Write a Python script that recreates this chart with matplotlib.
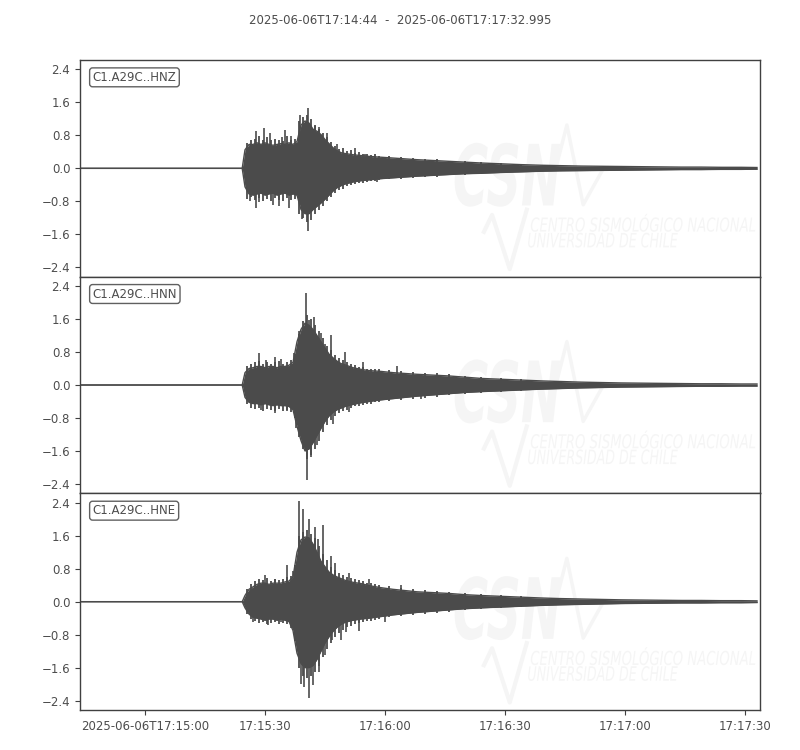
import numpy as np
import matplotlib
matplotlib.use("Agg")
import matplotlib.pyplot as plt
from matplotlib.ticker import FixedLocator, FuncFormatter
from matplotlib.textpath import TextPath
from matplotlib.font_manager import FontProperties
from matplotlib.patches import PathPatch
from matplotlib.transforms import Affine2D


# ============================================================
# Data (seconds after 2025-06-06T17:14:44)
# ============================================================

TITLE = "2025-06-06T17:14:44  -  2025-06-06T17:17:32.995"
CHANNELS = ["C1.A29C..HNZ", "C1.A29C..HNN", "C1.A29C..HNE"]

# time grid of the envelope samples
ENV_T = [0, 40.3,
         41, 42, 43, 44, 45, 46, 47, 48, 49, 50, 51, 52, 53,
         54, 55, 56, 57, 58, 59, 60, 61, 62, 63, 64, 65, 66,
         68, 70, 72, 75, 78, 81, 84, 88, 92, 96, 100,
         105, 110, 115, 120, 125, 130, 135, 140, 145, 150, 155, 160, 165, 169]

# upper / lower envelope of each trace
HNZ_UP = [0, 0,
          0.45, 0.58, 0.58, 0.62, 0.58, 0.62, 0.58, 0.56, 0.58, 0.6, 0.58, 0.62, 0.58,
          0.65, 1.05, 1.15, 1.1, 0.95, 0.9, 0.82, 0.7, 0.6, 0.5, 0.43, 0.38, 0.36,
          0.33, 0.31, 0.29, 0.27, 0.25, 0.23, 0.21, 0.19, 0.17, 0.15, 0.13,
          0.11, 0.09, 0.075, 0.065, 0.055, 0.05, 0.045, 0.04, 0.035, 0.03, 0.03, 0.025, 0.025, 0.02]
HNZ_LO = [0, 0,
          -0.45, -0.62, -0.65, -0.62, -0.6, -0.65, -0.62, -0.6, -0.65, -0.62, -0.6, -0.65, -0.62,
          -0.65, -1.0, -1.1, -1.1, -1.0, -0.92, -0.84, -0.75, -0.65, -0.55, -0.47, -0.42, -0.38,
          -0.33, -0.3, -0.28, -0.25, -0.23, -0.21, -0.19, -0.17, -0.15, -0.13, -0.12,
          -0.1, -0.085, -0.07, -0.06, -0.055, -0.05, -0.045, -0.04, -0.035, -0.03, -0.03, -0.025, -0.025, -0.02]

HNN_UP = [0, 0,
          0.3, 0.4, 0.42, 0.45, 0.45, 0.42, 0.45, 0.45, 0.42, 0.45, 0.45, 0.48, 0.55,
          1.05, 1.35, 1.5, 1.45, 1.35, 1.2, 1.05, 0.9, 0.75, 0.66, 0.58, 0.52, 0.49,
          0.42, 0.38, 0.35, 0.33, 0.3, 0.28, 0.26, 0.24, 0.22, 0.19, 0.16,
          0.14, 0.12, 0.1, 0.085, 0.07, 0.06, 0.05, 0.045, 0.04, 0.035, 0.03, 0.03, 0.025, 0.025]
HNN_LO = [0, 0,
          -0.3, -0.42, -0.45, -0.45, -0.48, -0.45, -0.48, -0.5, -0.48, -0.5, -0.5, -0.52, -0.6,
          -1.0, -1.35, -1.6, -1.55, -1.4, -1.22, -1.05, -0.88, -0.75, -0.66, -0.6, -0.56, -0.52,
          -0.47, -0.43, -0.4, -0.36, -0.33, -0.3, -0.27, -0.24, -0.21, -0.18, -0.16,
          -0.14, -0.12, -0.1, -0.085, -0.07, -0.06, -0.05, -0.045, -0.04, -0.035, -0.03, -0.03, -0.025, -0.025]

HNE_UP = [0, 0,
          0.15, 0.3, 0.36, 0.42, 0.45, 0.45, 0.42, 0.45, 0.45, 0.45, 0.48, 0.5, 0.6,
          1.2, 1.5, 1.57, 1.55, 1.4, 1.2, 0.98, 0.85, 0.72, 0.65, 0.6, 0.56, 0.52,
          0.47, 0.44, 0.39, 0.34, 0.3, 0.27, 0.24, 0.22, 0.2, 0.17, 0.15,
          0.13, 0.11, 0.09, 0.075, 0.065, 0.055, 0.045, 0.04, 0.035, 0.03, 0.03, 0.025, 0.025, 0.02]
HNE_LO = [0, 0,
          -0.15, -0.3, -0.38, -0.4, -0.42, -0.45, -0.42, -0.42, -0.45, -0.42, -0.45, -0.48, -0.7,
          -1.25, -1.5, -1.6, -1.6, -1.55, -1.4, -1.2, -1.0, -0.85, -0.72, -0.62, -0.55, -0.5,
          -0.45, -0.42, -0.4, -0.36, -0.32, -0.29, -0.26, -0.23, -0.2, -0.17, -0.15,
          -0.13, -0.11, -0.09, -0.075, -0.065, -0.055, -0.045, -0.04, -0.035, -0.03, -0.03, -0.025, -0.025, -0.02]

# ragged edge of the envelope: short excursions between the envelope samples
EDGE_T = [41.5, 42.5, 43.5, 44.5, 45.5, 46.5, 47.5, 48.5, 49.5, 50.5, 51.5, 52.5,
          53.5, 54.5, 55.5, 56.5, 57.5, 58.5, 59.5, 60.5, 61.5, 62.5, 63.5, 64.5,
          65.5, 66.5, 67.5, 68.5, 69.5, 70.5, 71.5, 72.5, 73.5, 74.5,
          77, 80, 83, 86, 89, 92, 96, 100, 105, 110]

HNZ_EDGE_UP = [0.62, 0.7, 0.72, 0.78, 0.7, 0.75, 0.68, 0.72, 0.7, 0.66, 0.78, 0.7,
               0.72, 1.15, 1.25, 1.3, 1.2, 1.05, 0.95, 0.85, 0.75, 0.65, 0.55, 0.48,
               0.5, 0.42, 0.44, 0.38, 0.4, 0.34, 0.36, 0.32, 0.34, 0.3,
               0.3, 0.27, 0.26, 0.22, 0.22, 0.19, 0.18, 0.15, 0.13, 0.1]
HNZ_EDGE_LO = [-0.75, -0.7, -0.78, -0.72, -0.8, -0.74, -0.8, -0.72, -0.76, -0.8, -0.72, -0.78,
               -0.74, -1.1, -1.2, -1.3, -1.25, -1.12, -1.0, -0.92, -0.8, -0.7, -0.6, -0.52,
               -0.5, -0.44, -0.4, -0.38, -0.36, -0.35, -0.32, -0.31, -0.3, -0.29,
               -0.27, -0.25, -0.23, -0.21, -0.2, -0.17, -0.16, -0.14, -0.12, -0.1]

HNN_EDGE_UP = [0.45, 0.52, 0.55, 0.58, 0.5, 0.56, 0.52, 0.55, 0.58, 0.52, 0.56, 0.6,
               0.75, 1.25, 1.55, 1.7, 1.6, 1.45, 1.3, 1.15, 0.95, 0.85, 0.72, 0.65,
               0.6, 0.55, 0.5, 0.48, 0.44, 0.43, 0.4, 0.4, 0.38, 0.38,
               0.36, 0.33, 0.31, 0.3, 0.28, 0.26, 0.23, 0.2, 0.17, 0.15]
HNN_EDGE_LO = [-0.45, -0.55, -0.58, -0.55, -0.62, -0.58, -0.6, -0.62, -0.58, -0.62, -0.6, -0.65,
               -0.8, -1.25, -1.55, -1.8, -1.7, -1.55, -1.35, -1.15, -0.98, -0.85, -0.75, -0.68,
               -0.62, -0.6, -0.55, -0.52, -0.5, -0.48, -0.46, -0.45, -0.42, -0.42,
               -0.38, -0.36, -0.33, -0.31, -0.28, -0.25, -0.22, -0.19, -0.17, -0.14]

HNE_EDGE_UP = [0.3, 0.42, 0.5, 0.55, 0.52, 0.58, 0.5, 0.55, 0.52, 0.55, 0.6, 0.62,
               0.9, 1.6, 1.7, 1.75, 1.65, 1.55, 1.35, 1.15, 1.0, 0.85, 0.78, 0.7,
               0.65, 0.6, 0.58, 0.55, 0.52, 0.5, 0.46, 0.45, 0.42, 0.4,
               0.37, 0.34, 0.3, 0.28, 0.27, 0.24, 0.21, 0.19, 0.16, 0.14]
HNE_EDGE_LO = [-0.3, -0.42, -0.48, -0.52, -0.5, -0.55, -0.52, -0.5, -0.55, -0.52, -0.55, -0.6,
               -0.95, -1.6, -1.8, -1.85, -1.8, -1.7, -1.55, -1.35, -1.15, -1.0, -0.85, -0.75,
               -0.68, -0.62, -0.58, -0.55, -0.52, -0.5, -0.48, -0.46, -0.44, -0.42,
               -0.38, -0.35, -0.32, -0.29, -0.27, -0.24, -0.21, -0.18, -0.16, -0.13]

# single large peaks sticking out of the envelope (time, amplitude)
HNZ_SPIKE_T = [42.3, 43.7, 43.8, 44.6, 45.8, 47.2, 48.0, 49.5, 50.3, 51.1, 52.0, 52.6,
               54.7, 55.3, 55.9, 56.7, 56.8, 57.5, 58.6, 59.4, 60.5, 61.5, 62.5, 64.0,
               68.6, 71.0, 74.0]
HNZ_SPIKE_V = [-0.8, 0.91, -0.96, -0.82, 0.99, 0.85, -0.9, -0.92, 0.75, 0.94, -0.96, 0.78,
               1.3, -1.24, 1.1, 1.46, -1.51, -1.04, 1.02, 1.0, -0.8, 0.85, -0.56, 0.6,
               0.49, 0.35, -0.33]

HNN_SPIKE_T = [44.5, 45.0, 46.3, 48.4, 48.5, 50.0, 51.6, 53.2, 53.8, 54.6, 56.2, 56.4,
               57.0, 57.6, 58.3, 59.0, 60.0, 61.0, 62.5, 63.0, 66.0, 67.0, 70.5, 79.0, 85.0]
HNN_SPIKE_V = [0.77, -0.6, 0.6, 0.69, -0.68, 0.62, -0.62, 0.77, -1.05, 1.3, 2.23, -2.3,
               1.58, -1.75, 1.66, -1.45, 1.26, 1.0, 1.21, -0.95, 0.81, -0.65, 0.55, 0.45, -0.35]

HNE_SPIKE_T = [43.0, 45.9, 46.8, 48.5, 50.0, 51.6, 52.5, 52.9, 54.4, 55.0, 55.6, 55.8,
               56.9, 57.0, 58.0, 58.4, 59.2, 59.5, 60.4, 61.0, 62.6, 62.7, 63.4, 65.1,
               66.3, 67.0, 69.6, 72.0, 76.0, 80.0]
HNE_SPIKE_V = [-0.5, 0.64, -0.57, 0.55, -0.5, 0.88, -0.65, 0.75, 2.44, -1.99, 2.25, -2.07,
               2.01, -2.35, -2.03, 1.81, 1.53, -1.7, 1.85, -1.3, 1.12, -0.94, 0.95, -0.94,
               -0.74, 0.7, -0.7, 0.55, -0.5, 0.4]

X_TICKS = [16, 46, 76, 106, 136, 166]
X_TICK_LABELS = ["2025-06-06T17:15:00", "17:15:30", "17:16:00",
                 "17:16:30", "17:17:00", "17:17:30"]
Y_TICKS = [-2.4, -1.6, -0.8, 0.0, 0.8, 1.6, 2.4]


# ============================================================
# Style
# ============================================================

WAVE_COLOR = "#4b4b4b"
AXIS_COLOR = "#404040"
TEXT_COLOR = "#4d4d4d"
MARK_COLOR = "#f5f5f5"
X_LIMITS = (-0.25, 169.75)
Y_LIMITS = (-2.63, 2.63)


def fmt_y(v, pos):
    if abs(v) < 1e-9:
        return "0.0"
    return f"{v:.1f}".replace("-", "\u2212")


def text_in_box(ax, s, box, **font_kw):
    """Draw string s as a filled path stretched to box (axes fraction)."""
    tp = TextPath((0, 0), s, size=1, prop=FontProperties(**font_kw))
    ext = tp.get_extents()
    x0, x1, y0, y1 = box
    tr = (Affine2D().translate(-ext.x0, -ext.y0)
          .scale((x1 - x0) / ext.width, (y1 - y0) / ext.height)
          .translate(x0, y0))
    ax.add_patch(PathPatch(tr.transform_path(tp), transform=ax.transAxes,
                           facecolor=MARK_COLOR, edgecolor="none", zorder=0))


def draw_watermark(ax):
    """Faint CSN logo in the right half of each panel."""
    text_in_box(ax, "CSN", (0.551, 0.706, 0.323, 0.618),
                family="DejaVu Sans", weight="bold", style="italic")
    text_in_box(ax, "CENTRO SISMOLÓGICO NACIONAL", (0.663, 0.993, 0.207, 0.290),
                family="DejaVu Sans", style="italic")
    text_in_box(ax, "UNIVERSIDAD DE CHILE", (0.659, 0.879, 0.134, 0.203),
                family="DejaVu Sans", style="italic")
    ax.plot([0.688, 0.716, 0.740, 0.767], [0.355, 0.700, 0.332, 0.484],
            lw=2.5, transform=ax.transAxes, color=MARK_COLOR, zorder=0)
    ax.plot([0.594, 0.606, 0.632, 0.657], [0.207, 0.285, 0.035, 0.309],
            lw=3.0, transform=ax.transAxes, color=MARK_COLOR, zorder=0)


def plot_traces():
    fig, axes = plt.subplots(3, 1, figsize=(8, 7.5), dpi=100, sharex=True)
    fig.subplots_adjust(left=0.1, right=0.95, top=0.92, bottom=0.0533, hspace=0)

    traces = [
        (HNZ_UP, HNZ_LO, HNZ_EDGE_UP, HNZ_EDGE_LO, HNZ_SPIKE_T, HNZ_SPIKE_V),
        (HNN_UP, HNN_LO, HNN_EDGE_UP, HNN_EDGE_LO, HNN_SPIKE_T, HNN_SPIKE_V),
        (HNE_UP, HNE_LO, HNE_EDGE_UP, HNE_EDGE_LO, HNE_SPIKE_T, HNE_SPIKE_V),
    ]
    t = np.array(ENV_T)

    for ax, name, (up, lo, eu, el, st, sv) in zip(axes, CHANNELS, traces):
        draw_watermark(ax)

        ax.fill_between(t, lo, up, color=WAVE_COLOR, lw=0, zorder=2)
        ax.plot(t, up, color=WAVE_COLOR, lw=1.0, zorder=2)
        ax.plot(t, lo, color=WAVE_COLOR, lw=1.0, zorder=2)
        ax.vlines(EDGE_T, el, eu, color=WAVE_COLOR, lw=1.3, zorder=2)
        ax.vlines(st, 0, sv, color=WAVE_COLOR, lw=1.2, zorder=2)

        ax.text(0.0185, 0.92, name, transform=ax.transAxes, ha="left",
                va="center", fontsize=8.5, color=TEXT_COLOR, zorder=5,
                bbox=dict(boxstyle="round,pad=0.25", facecolor="white",
                          edgecolor="#606060", lw=1.0))

        ax.set_xlim(*X_LIMITS)
        ax.set_ylim(*Y_LIMITS)
        ax.yaxis.set_major_locator(FixedLocator(Y_TICKS))
        ax.yaxis.set_major_formatter(FuncFormatter(fmt_y))
        ax.tick_params(axis="y", labelsize=8.5, labelcolor=TEXT_COLOR,
                       color=AXIS_COLOR, length=3.5, width=0.8)
        ax.tick_params(axis="x", bottom=False, labelbottom=False)
        for sp in ax.spines.values():
            sp.set_color(AXIS_COLOR)
            sp.set_linewidth(1.0)

    bottom = axes[-1]
    bottom.set_xticks(X_TICKS)
    bottom.set_xticklabels(X_TICK_LABELS)
    bottom.tick_params(axis="x", bottom=True, labelbottom=True, labelsize=8.5,
                       labelcolor=TEXT_COLOR, color=AXIS_COLOR, length=3.5,
                       width=0.8)

    fig.text(0.5, 0.973, TITLE, ha="center", va="center", fontsize=8.5,
             color=TEXT_COLOR)

    fig.savefig("out.png", dpi=100)


if __name__ == "__main__":
    plot_traces()
